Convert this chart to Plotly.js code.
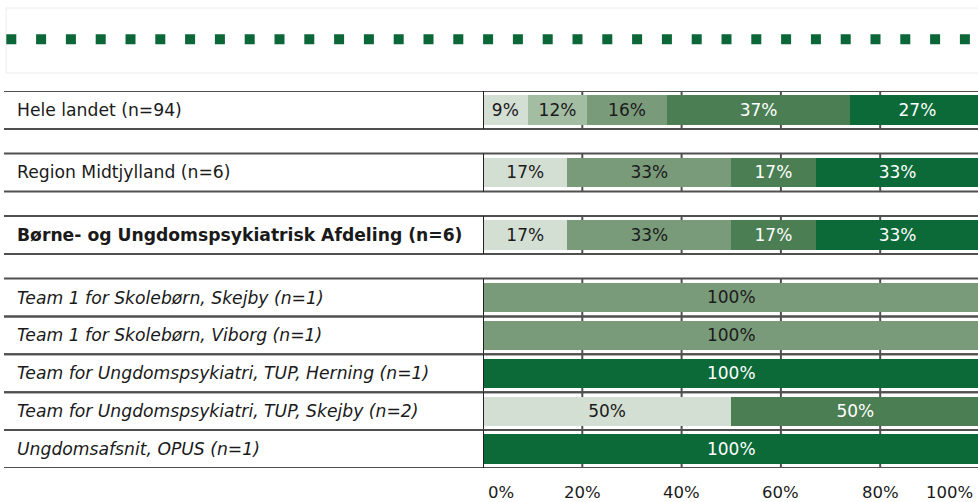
<!DOCTYPE html>
<html>
<head>
<meta charset="utf-8">
<script src="https://cdn.plot.ly/plotly-3.0.1.min.js"></script>
<style>
  html, body { margin: 0; padding: 0; background: #ffffff; }
  #chart { width: 978px; height: 502px; }
</style>
</head>
<body>
<div id="chart"></div>
<script>
// Row labels, top to bottom
const rowLabels = [
  'Hele landet (n=94)',
  'Region Midtjylland (n=6)',
  'Børne- og Ungdomspsykiatrisk Afdeling (n=6)',
  'Team 1 for Skolebørn, Skejby (n=1)',
  'Team 1 for Skolebørn, Viborg (n=1)',
  'Team for Ungdomspsykiatri, TUP, Herning (n=1)',
  'Team for Ungdomspsykiatri, TUP, Skejby (n=2)',
  'Ungdomsafsnit, OPUS (n=1)'
];
// Level of each row: country, region, department, unit
const rowKinds = ['land', 'region', 'afdeling', 'enhed', 'enhed', 'enhed', 'enhed', 'enhed'];

// Answer distribution (percent) for the five answer categories
const seriesNames = ['Kategori 1', 'Kategori 2', 'Kategori 3', 'Kategori 4', 'Kategori 5'];
const cat1 = [9, 17, 17, 0, 0, 0, 50, 0];
const cat2 = [12, 0, 0, 0, 0, 0, 0, 0];
const cat3 = [16, 33, 33, 100, 100, 0, 0, 0];
const cat4 = [37, 17, 17, 0, 0, 0, 50, 0];
const cat5 = [27, 33, 33, 0, 0, 100, 0, 100];

// x axis tick labels
const tickValues = [0, 20, 40, 60, 80, 100];

// ---- styling ----
const FONT = 'DejaVu Sans, Verdana, sans-serif';
const W = 978, H = 502;
const M = { l: 483, r: 0, t: 91, b: 34 };
const PW = W - M.l - M.r, PH = H - M.t - M.b;
const fills = ['#d4dfd4', '#a3bda3', '#7a9b7a', '#4b7f53', '#0c6a39'];
const textColors = ['#1a1a1a', '#1a1a1a', '#1a1a1a', '#ffffff', '#ffffff'];
const lineColor = '#505050';

// vertical layout: each row is one unit high; the first rows are separated by a gap
const GAP = 0.65;
const rowTop = [];
let cursor = 0;
rowKinds.forEach((k, i) => {
  if (i > 0 && i <= 3) cursor += GAP;
  rowTop.push(cursor);
  cursor += 1;
});
const yBottom = cursor;
const yCenter = rowTop.map(t => t + 0.5);

const pxX = px => (px - M.l) / PW;
const pxY = py => (H - M.b - py) / PH;

const allSeries = [cat1, cat2, cat3, cat4, cat5];
const traces = allSeries.map((vals, s) => ({
  type: 'bar',
  orientation: 'h',
  name: seriesNames[s],
  x: vals,
  y: yCenter,
  width: 0.77,
  marker: { color: fills[s], line: { width: 0 } },
  text: vals.map(v => v ? v + '%' : ''),
  textposition: 'inside',
  insidetextanchor: 'middle',
  textangle: 0,
  constraintext: 'none',
  textfont: { family: FONT, size: 17, color: textColors[s] },
  hoverinfo: 'skip',
  showlegend: false
}));

const shapes = [];
// legend strip frame and dotted band
shapes.push({
  type: 'rect', xref: 'paper', yref: 'paper',
  x0: pxX(6), x1: pxX(990), y0: pxY(8), y1: pxY(73),
  line: { color: '#ececec', width: 1 }, fillcolor: 'rgba(0,0,0,0)'
});
shapes.push({
  type: 'line', xref: 'paper', yref: 'paper',
  x0: pxX(6.3), x1: pxX(978), y0: pxY(39.3), y1: pxY(39.3),
  line: { color: '#0b6638', width: 10, dash: '10px,19.8px' }
});
// row borders and grid segments
rowTop.forEach(t => {
  [t, t + 1].forEach(y => shapes.push({
    type: 'line', xref: 'paper', yref: 'y',
    x0: pxX(4), x1: 1, y0: y, y1: y,
    line: { color: lineColor, width: 2 }, layer: 'above'
  }));
  tickValues.slice(1, -1).forEach(v => shapes.push({
    type: 'line', xref: 'x', yref: 'y',
    x0: v, x1: v, y0: t, y1: t + 1,
    line: { color: lineColor, width: 2 }, layer: 'below'
  }));
  shapes.push({
    type: 'line', xref: 'x', yref: 'y',
    x0: 0, x1: 0, y0: t, y1: t + 1,
    line: { color: '#222222', width: 2 }, layer: 'above'
  });
});

const annotations = [];
rowLabels.forEach((lab, i) => {
  const k = rowKinds[i];
  annotations.push({
    xref: 'paper', yref: 'y', x: pxX(14.5), y: yCenter[i],
    xanchor: 'left', yanchor: 'middle', showarrow: false,
    text: lab,
    font: {
      family: FONT, size: 17.2, color: '#1a1a1a',
      weight: k === 'afdeling' ? 'bold' : 'normal',
      style: k === 'enhed' ? 'italic' : 'normal'
    }
  });
});
tickValues.forEach((v, i) => {
  const a = {
    yref: 'paper', y: pxY(492.5), yanchor: 'middle', showarrow: false,
    text: v + '%', font: { family: FONT, size: 16.5, color: '#1a1a1a' }
  };
  if (i === 0) { a.xref = 'paper'; a.x = 0; a.xanchor = 'left'; a.xshift = 3; }
  else if (i === tickValues.length - 1) { a.xref = 'paper'; a.x = 1; a.xanchor = 'right'; a.xshift = -3; }
  else { a.xref = 'x'; a.x = v; a.xanchor = 'center'; }
  annotations.push(a);
});

const layout = {
  width: W, height: H,
  margin: M,
  paper_bgcolor: '#ffffff', plot_bgcolor: '#ffffff',
  barmode: 'stack',
  showlegend: false,
  xaxis: {
    range: [0, 99.7], showgrid: false, zeroline: false,
    showticklabels: false, ticks: '', showline: false, fixedrange: true
  },
  yaxis: {
    range: [yBottom, 0], showgrid: false, zeroline: false,
    showticklabels: false, ticks: '', showline: false, fixedrange: true
  },
  shapes: shapes,
  annotations: annotations
};

Plotly.newPlot('chart', traces, layout, { displayModeBar: false, staticPlot: true });
</script>
</body>
</html>
